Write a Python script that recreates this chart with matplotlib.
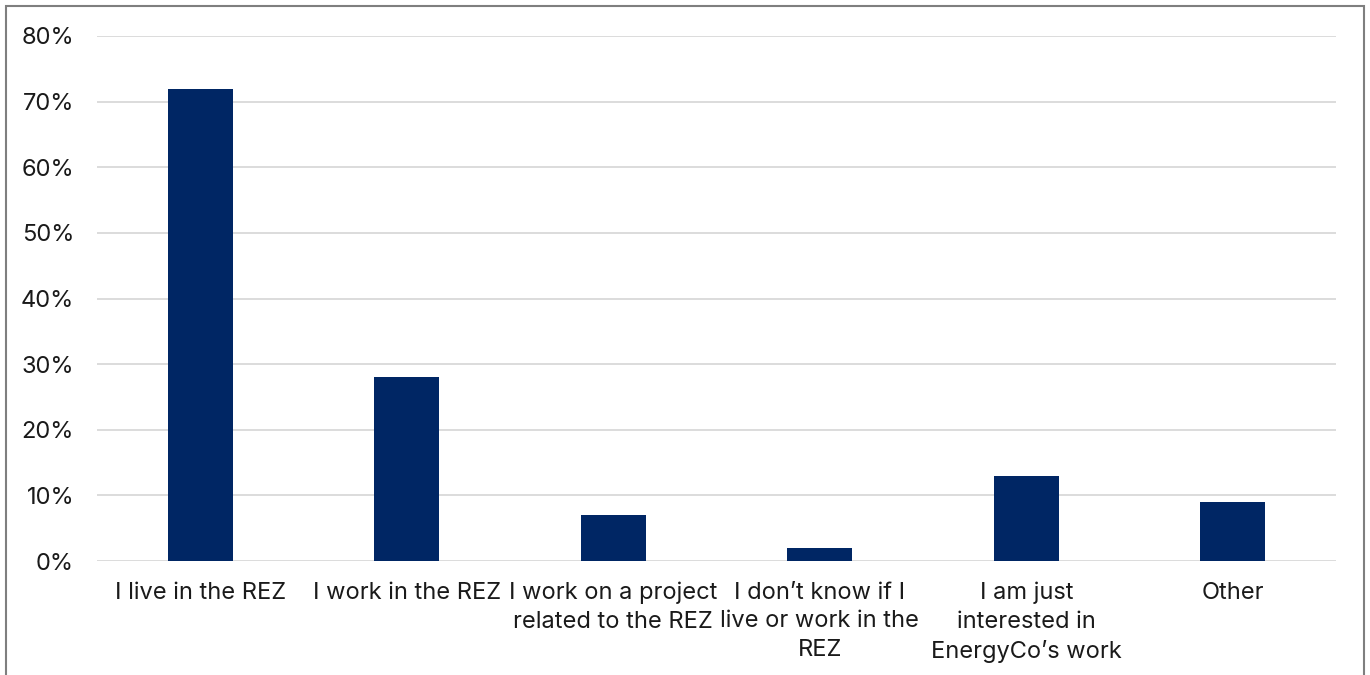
import matplotlib
matplotlib.use("Agg")
import matplotlib.pyplot as plt
from matplotlib.patches import Rectangle
from matplotlib.ticker import FuncFormatter

categories = [
    "I live in the REZ",
    "I work in the REZ",
    "I work on a project\nrelated to the REZ",
    "I don\u2019t know if I\nlive or work in the\nREZ",
    "I am just\ninterested in\nEnergyCo\u2019s work",
    "Other",
]
values = [72, 28, 7, 2, 13, 9]
yticks = [0, 10, 20, 30, 40, 50, 60, 70, 80]

plt.rcParams['font.family'] = ['Inter', 'DejaVu Sans']

W, H = 1370, 675
fig = plt.figure(figsize=(W / 100, H / 100), dpi=100)
ax = fig.add_axes([97 / W, 1 - 561 / H, (1336 - 97) / W, (561 - 36) / H])

x = list(range(len(categories)))
ax.bar(x, values, width=0.315, color="#002664", zorder=3)
ax.set_xlim(-0.5, len(categories) - 0.5)
ax.set_ylim(0, 80)
ax.set_yticks(yticks)
ax.yaxis.set_major_formatter(FuncFormatter(lambda v, p: f"{int(v)}%"))
ax.grid(axis="y", color="#d9d9d9", linewidth=1.3, zorder=0)
for s in ax.spines.values():
    s.set_visible(False)
ax.tick_params(axis="both", length=0, labelsize=17, colors="#1a1a1a")
ax.tick_params(axis="y", pad=16.5)
ax.tick_params(axis="x", pad=15)
ax.set_xticks(x)
ax.set_xticklabels(categories, linespacing=1.38, ha="center")

# outer frame
fig.patches.append(Rectangle((6 / W, -0.05), (1364 - 6) / W, 1 - 6 / H + 0.05,
                             transform=fig.transFigure, fill=False,
                             edgecolor="#7f7f7f", linewidth=1.5))

fig.savefig("out.png", dpi=100)
